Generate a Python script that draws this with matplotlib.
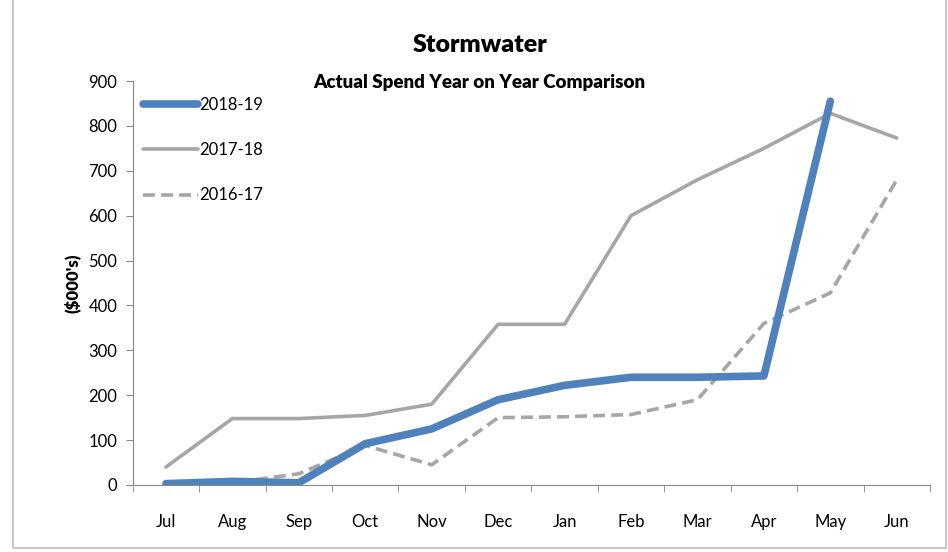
import matplotlib.pyplot as plt
import numpy as np
from matplotlib.patches import Rectangle

months = ["Jul", "Aug", "Sep", "Oct", "Nov", "Dec", "Jan", "Feb", "Mar", "Apr", "May", "Jun"]
fy1819 = [3, 8, 5, 92, 125, 190, 222, 240, 240, 243, 855]
fy1718 = [40, 148, 148, 155, 180, 358, 358, 600, 680, 750, 828, 773]
fy1617 = [3, 5, 25, 88, 45, 150, 152, 157, 190, 360, 428, 680]

fam = ["Lato", "DejaVu Sans"]
plt.rcParams["font.family"] = fam

fig = plt.figure(figsize=(9.48, 5.52), dpi=100)
ax = fig.add_axes([0.140, 0.1214, 0.841, 0.7318])

blue = "#4F81BD"
grey = "#A6A6A6"

x = np.arange(len(months))
ax.plot(x[:len(fy1819)], fy1819, color=blue, lw=5.5, solid_capstyle="round", label="2018-19", zorder=3)
ax.plot(x, fy1718, color=grey, lw=2.6, solid_capstyle="round", label="2017-18", zorder=2)
ax.plot(x, fy1617, color=grey, lw=2.6, ls=(0, (3.3, 1.7)), label="2016-17", zorder=2)

ax.set_xlim(-0.5, 11.5)
ax.set_ylim(0, 900)
ax.set_yticks(range(0, 901, 100))
ax.set_xticks(x)
ax.set_xticklabels(months)
ax.set_xticks(np.arange(-0.5, 12, 1), minor=True)
ax.tick_params(axis="x", which="major", length=0, pad=21, labelsize=12)
ax.tick_params(axis="x", which="minor", length=5, color="#888888")
ax.tick_params(axis="y", length=5, color="#888888", labelsize=12, pad=6)
for s in ["top", "right"]:
    ax.spines[s].set_visible(False)
for s in ["left", "bottom"]:
    ax.spines[s].set_color("#888888")

ax.set_ylabel("($000's)", fontsize=12, fontweight="heavy", labelpad=6)

leg = ax.legend(loc="upper left", bbox_to_anchor=(0.0, 0.985), frameon=False, fontsize=12,
                handlelength=3.3, labelspacing=1.75, handletextpad=0.1, borderaxespad=0.2)

fig.text(0.506, 0.918, "Stormwater", ha="center", va="center", fontsize=18, fontweight="heavy")
fig.text(0.506, 0.851, "Actual Spend Year on Year Comparison", ha="center", va="center",
         fontsize=13.5, fontweight="heavy")

fig.patches.append(Rectangle((0.014, 0.007), 0.984, 1.2, transform=fig.transFigure,
                             fill=False, edgecolor="#BBBBBB", lw=1.2))

fig.savefig("out.png", dpi=100)
